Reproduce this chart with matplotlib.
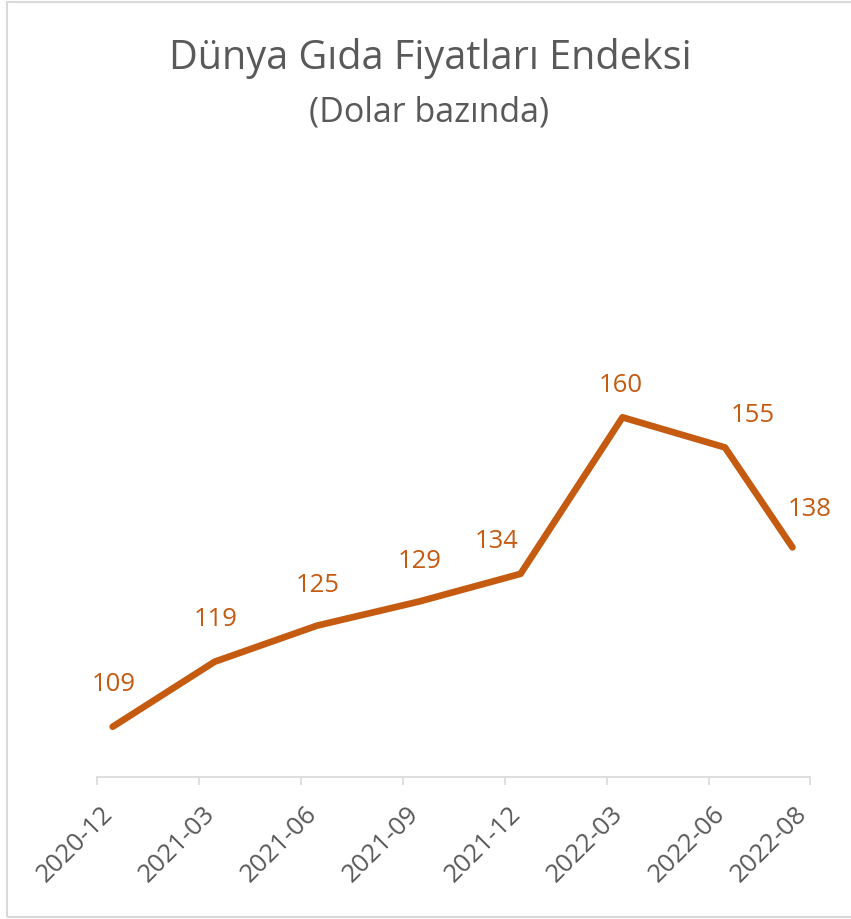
import matplotlib.pyplot as plt
import matplotlib.transforms as mtransforms
import pandas as pd

# Data (FAO food price index, dollar based)
dates = ['2020-12-15', '2021-03-15', '2021-06-15', '2021-09-15',
         '2021-12-15', '2022-03-15', '2022-06-15', '2022-08-15']
values = [108.6, 119.4, 125.4, 129.4, 134.0, 160.0, 155.0, 138.4]
tick_dates = ['2020-12-01', '2021-03-01', '2021-06-01', '2021-09-01',
              '2021-12-01', '2022-03-01', '2022-06-01', '2022-08-31']

# label offsets in pixels (dx, dy), Excel-style placement
label_offsets = [(1, 42), (1, 42), (1, 40), (1, 40), (-24, 32), (-2, 32), (28, 32), (17, 38)]

orange = '#C55A11'
gray_txt = '#595959'
light = '#D9D9D9'
font = ['Open Sans', 'DejaVu Sans']
plt.rcParams['font.family'] = font


def to_months(s):
    # months since 2020-12-01 on a uniform month axis
    d = pd.Timestamp(s)
    return (d.year - 2020) * 12 + d.month - 12 + (d.day - 1) / d.days_in_month


x = [to_months(d) for d in dates]
xt = [to_months(d) for d in tick_dates]
xt_labels = [pd.Timestamp(d).strftime('%Y-%m') for d in tick_dates]

W, H = 851, 919
fig = plt.figure(figsize=(W / 100, H / 100), dpi=100)

# light frame around the chart area
fig.add_artist(plt.Rectangle((7 / W, 2 / H), 1.2, 1 - 4 / H, transform=fig.transFigure,
                             fill=False, edgecolor=light, linewidth=1.5))

ax = fig.add_axes([97.3 / W, 1 - 776.7 / H, (810 - 97.3) / W, (776.7 - 250) / H])
ax.plot(x, values, color=orange, linewidth=4.8, solid_capstyle='round', solid_joinstyle='round')

for xi, v, (dx, dy) in zip(x, values, label_offsets):
    ax.annotate(f'{v:.0f}', (xi, v), xytext=(dx, dy), textcoords='offset pixels',
                ha='center', va='center', fontsize=18.5, color=orange)

ax.set_xlim(xt[0], xt[-1])
ax.set_ylim(100.3, 187.8)
ax.set_yticks([])
for s in ['top', 'right', 'left']:
    ax.spines[s].set_visible(False)
ax.spines['bottom'].set_color(light)
ax.spines['bottom'].set_linewidth(1.2)
ax.set_xticks(xt)
ax.set_xticklabels(xt_labels, rotation=45, ha='right', fontsize=18.5, color=gray_txt)
ax.tick_params(axis='x', direction='out', length=6, width=1.2, color=light, pad=3)
labels = ax.get_xticklabels()
for i, lbl in enumerate(labels):
    dx = 0.21 if i < len(labels) - 1 else 0.02
    lbl.set_transform(lbl.get_transform() + mtransforms.ScaledTranslation(dx, -0.12, fig.dpi_scale_trans))

fig.text(430 / W, 1 - 69.3 / H, 'Dünya Gıda Fiyatları Endeksi', ha='center', va='baseline',
         fontsize=28.5, color=gray_txt)
fig.text(429 / W, 1 - 121.7 / H, '(Dolar bazında)', ha='center', va='baseline',
         fontsize=24.5, color=gray_txt)

fig.savefig('out.png', dpi=100, facecolor='white')
